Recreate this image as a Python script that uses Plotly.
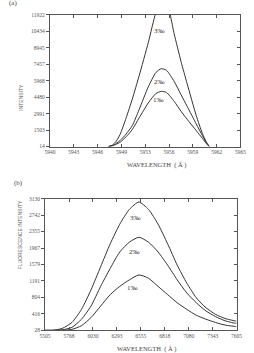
import plotly.graph_objects as go

# ---------- Panel (a) data ----------
wl_a = [5947.7, 5948.2, 5948.7, 5949.2, 5950.0, 5950.8, 5951.7, 5952.9, 5953.9,
        5954.6, 5955.3, 5956.3, 5957.2, 5958.0, 5959.2, 5960.0, 5960.5, 5960.9]
a_3 = [14, 150, 500, 1100, 2600, 4300, 6400, 9400, 12100,
       13000, 13000, 10200, 7700, 5700, 2800, 1200, 450, 14]
a_2 = [14, 100, 300, 550, 1150, 1900, 3350, 5400, 6700,
       7050, 6900, 5900, 4700, 3650, 2050, 1000, 400, 14]
a_1 = [14, 80, 220, 400, 900, 1550, 2600, 3950, 4800,
       5000, 4900, 4100, 3200, 2480, 1450, 750, 300, 14]

xa_tickvals = [5940, 5943.125, 5946.25, 5949.375, 5952.5, 5955.625, 5958.75, 5961.875, 5965]
xa_ticktext = ["5940", "5943", "5946", "5949", "5953", "5956", "5959", "5962", "5965"]
ya_tickvals = [14, 1502.5, 2991, 4479.5, 5968, 7456.5, 8945, 10433.5, 11922]
ya_ticktext = ["14", "1503", "2991", "4480", "5968", "7457", "8945", "10434", "11922"]

# ---------- Panel (b) data ----------
wl_b = [5505, 5589, 5694, 5799, 5904, 6009, 6114, 6219, 6324, 6429, 6534,
        6639, 6744, 6849, 6954, 7059, 7164, 7269, 7374, 7479, 7584, 7605]
b_3 = [28, 28, 74, 213, 521, 984, 1525, 2065, 2528, 2875, 3050,
       2875, 2528, 2065, 1563, 1139, 792, 560, 405, 306, 252, 245]
b_2 = [28, 28, 40, 97, 290, 600, 1063, 1486, 1873, 2104, 2220,
       2104, 1873, 1563, 1216, 908, 676, 484, 352, 252, 197, 190]
b_1 = [28, 28, 30, 50, 137, 329, 600, 868, 1063, 1216, 1331,
       1255, 1063, 868, 676, 521, 382, 290, 213, 151, 120, 115]

xb_tickvals = [5505, 5767.5, 6030, 6292.5, 6555, 6817.5, 7080, 7342.5, 7605]
xb_ticktext = ["5505", "5768", "6030", "6293", "6555", "6818", "7080", "7343", "7605"]
yb_tickvals = [28, 415.75, 803.5, 1191.25, 1579, 1966.75, 2354.5, 2742.25, 3130]
yb_ticktext = ["28", "416", "804", "1191", "1579", "1967", "2355", "2742", "3130"]

series_labels = ["3‰", "2‰", "1‰"]

LINE = dict(color="#333333", width=1, shape="spline", smoothing=0.6)
fig = go.Figure()
for ys in (a_3, a_2, a_1):
    fig.add_trace(go.Scatter(x=wl_a, y=ys, mode="lines", line=LINE,
                             xaxis="x", yaxis="y", showlegend=False, hoverinfo="skip"))
for ys in (b_3, b_2, b_1):
    fig.add_trace(go.Scatter(x=wl_b, y=ys, mode="lines", line=LINE,
                             xaxis="x2", yaxis="y2", showlegend=False, hoverinfo="skip"))

TF = dict(family="Liberation Serif", size=5.5, color="#555555")
AX = dict(showline=True, linecolor="#555555", linewidth=1, showgrid=False, zeroline=False,
          ticklen=3, tickcolor="#555555", tickfont=TF, tickmode="array")

fig.update_layout(
    width=254, height=353, margin=dict(l=0, r=0, t=0, b=0),
    paper_bgcolor="white", plot_bgcolor="white",
    xaxis=dict(AX, domain=[0.185, 0.969], range=[5940, 5965], anchor="y",
               tickvals=xa_tickvals, ticktext=xa_ticktext, ticks="inside", mirror="ticks"),
    yaxis=dict(AX, domain=[0.5864, 0.966], range=[14, 11922], anchor="x",
               tickvals=ya_tickvals, ticktext=ya_ticktext, ticks="outside"),
    yaxis3=dict(AX, overlaying="y", side="right", anchor="x", range=[14, 11922],
                tickvals=ya_tickvals, ticks="inside", showticklabels=False),
    xaxis2=dict(AX, domain=[0.165, 0.953], range=[5505, 7605], anchor="y2",
                tickvals=xb_tickvals, ticktext=xb_ticktext, ticks="inside", mirror="ticks"),
    yaxis2=dict(AX, domain=[0.0567, 0.4363], range=[28, 3130], anchor="x2",
                tickvals=yb_tickvals, ticktext=yb_ticktext, ticks="outside"),
    yaxis4=dict(AX, overlaying="y2", side="right", anchor="x2", range=[28, 3130],
                tickvals=yb_tickvals, ticks="inside", showticklabels=False),
)
fig.add_trace(go.Scatter(x=[None], y=[None], xaxis="x", yaxis="y3", showlegend=False))
fig.add_trace(go.Scatter(x=[None], y=[None], xaxis="x2", yaxis="y4", showlegend=False))

LF = dict(family="Liberation Serif", size=7, color="#333333")
ann = []
for txt, (xx, yy) in zip(series_labels, [(5954.4, 10500), (5954.4, 5880), (5954.2, 4190)]):
    ann.append(dict(x=xx, y=yy, xref="x", yref="y", text=txt, showarrow=False, font=LF))
for txt, (xx, yy) in zip(series_labels, [(6499, 2683), (6481, 1873), (6461, 1023)]):
    ann.append(dict(x=xx, y=yy, xref="x2", yref="y2", text=txt, showarrow=False, font=LF))

SF = dict(family="Liberation Sans", size=5, color="#555555")
ann += [
    dict(x=0.01, y=1.0, xref="paper", yref="paper", text="(a)", showarrow=False,
         xanchor="left", yanchor="middle", font=dict(family="Liberation Serif", size=7, color="#444444")),
    dict(x=0.028, y=0.4816, xref="paper", yref="paper", text="(b)", showarrow=False,
         xanchor="left", yanchor="middle", font=dict(family="Liberation Serif", size=7, color="#444444")),
    dict(x=0.047, y=0.773, xref="paper", yref="paper", text="INTENSITY", showarrow=False,
         textangle=-90, font=SF),
    dict(x=0.039, y=0.2266, xref="paper", yref="paper", text="FLUORESCENCE INTENSITY",
         showarrow=False, textangle=-90, font=SF),
    dict(x=0.622, y=0.5326, xref="paper", yref="paper", text="WAVELENGTH  ( Å )",
         showarrow=False, font=dict(family="Liberation Serif", size=6.5, color="#444444")),
    dict(x=0.583, y=0.003, xref="paper", yref="paper", text="WAVELENGTH  ( Å )",
         showarrow=False, yanchor="middle", font=dict(family="Liberation Serif", size=6.5, color="#444444")),
]
fig.update_layout(annotations=ann)
fig.write_html("out.html")
